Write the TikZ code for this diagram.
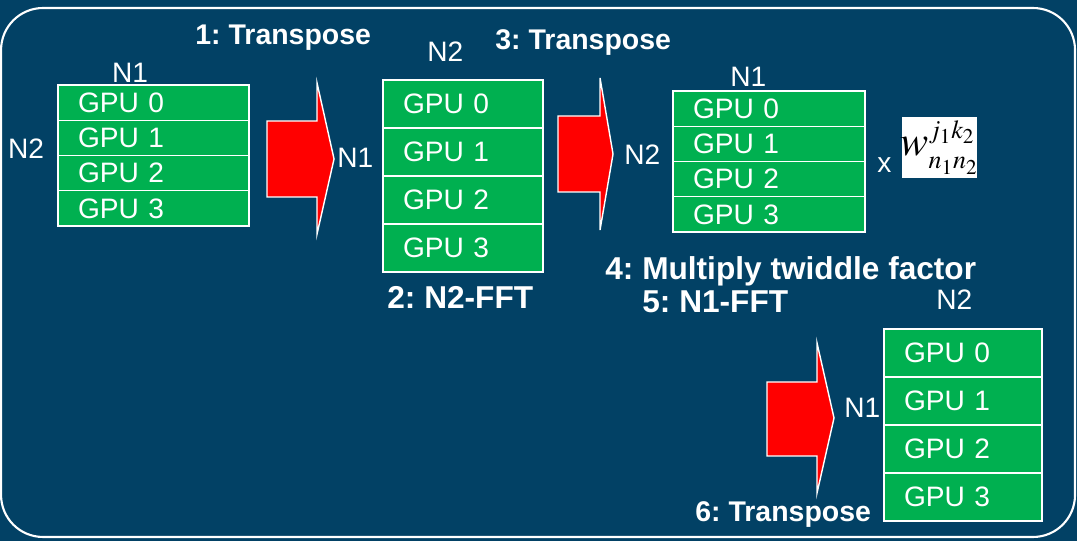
\documentclass[tikz,border=0pt]{standalone}
\usepackage{mathptmx}
\usepackage{fontspec}
\setmainfont{Liberation Sans}
\usetikzlibrary{positioning}
\definecolor{panel-blue}{HTML}{024165}
\definecolor{gpu-green}{HTML}{00B050}
\definecolor{arrow-red}{HTML}{FF0000}
\frenchspacing

\begin{document}
\begin{tikzpicture}[x=0.02cm, y=-0.02cm,
      lbl/.style={text=white, inner sep=0pt, font=\fontsize{16}{19}\selectfont},
      steplbl/.style={lbl, font=\fontsize{16.2}{19}\selectfont\bfseries},
      stepbig/.style={lbl, font=\fontsize{18}{21}\selectfont\bfseries},
      gpu/.style={draw=white, line width=0.8pt, fill=gpu-green, text=white,
                  font=\fontsize{16}{19}\selectfont, align=left,
                  inner xsep=0.4cm, inner ysep=0pt, outer sep=0pt},
      rowsA/.style={gpu, text width=3.02cm, minimum height=0.705cm},
      rowsB/.style={gpu, text width=2.40cm, minimum height=0.96cm},
      rowsC/.style={gpu, text width=3.04cm, minimum height=0.705cm},
      rowsD/.style={gpu, text width=2.36cm, minimum height=0.96cm},
      fatarrow/.style={fill=arrow-red, draw=white, line width=0.8pt}]
    % panel
    \fill[panel-blue] (0,0) rectangle (1077,541);
    \draw[white, line width=1.2pt, rounded corners=0.84cm] (1,8) rectangle (1075,537);

    % first layout: N2 x N1
    \node[rowsA, anchor=north west] (A0) at (58,85) {GPU 0};
    \node[rowsA, below=0pt of A0] (A1) {GPU 1};
    \node[rowsA, below=0pt of A1] (A2) {GPU 2};
    \node[rowsA, below=0pt of A2] (A3) {GPU 3};
    \node[lbl, anchor=base] (A-top) at (130,83) {N1};
    \node[lbl, anchor=base] (A-side) at (26,159) {N2};

    % 1: transpose
    \draw[fatarrow] (267,121) -- (317,121) -- (317,83) -- (334,159)
                    -- (317,234) -- (317,197) -- (267,197) -- cycle;
    \node[steplbl, anchor=base west] (T1) at (195,45) {1: Transpose};

    % second layout: N1 x N2
    \node[rowsB, anchor=north west] (B0) at (383,80) {GPU 0};
    \node[rowsB, below=0pt of B0] (B1) {GPU 1};
    \node[rowsB, below=0pt of B1] (B2) {GPU 2};
    \node[rowsB, below=0pt of B2] (B3) {GPU 3};
    \node[lbl, anchor=base west] (B-top) at (427,62) {N2};
    \node[lbl, anchor=base west] (B-side) at (337,168) {N1};
    \node[stepbig, anchor=base west] (F2) at (387,309) {2: N2-FFT};

    % 3: transpose
    \draw[fatarrow] (558,116) -- (600,116) -- (600,78) -- (613,154)
                    -- (600,230) -- (600,192) -- (558,192) -- cycle;
    \node[steplbl, anchor=base west] (T3) at (495,50) {3: Transpose};

    % third layout: N2 x N1, times the twiddle factor
    \node[rowsC, anchor=north west] (C0) at (673,91) {GPU 0};
    \node[rowsC, below=0pt of C0] (C1) {GPU 1};
    \node[rowsC, below=0pt of C1] (C2) {GPU 2};
    \node[rowsC, below=0pt of C2] (C3) {GPU 3};
    \node[lbl, anchor=base west] (C-top) at (730,87) {N1};
    \node[lbl, anchor=base west] (C-side) at (624,165) {N2};
    \node[lbl, anchor=base west] (times) at (877,173) {x};
    \node[fill=white, inner sep=0pt, minimum width=1.5cm, minimum height=1.22cm]
          (W) at (939.5,147.5) {};
    % twiddle factor, scripts pushed apart
    \node[inner sep=0pt, font=\fontsize{20}{22}\selectfont] (Wf) at (W)
          {$\scalebox{1.2}{$w$}^{\raisebox{2.5pt}{$\scriptstyle j_1k_2$}}%
            _{\raisebox{-2.5pt}{$\scriptstyle n_1n_2$}}$};
    \node[stepbig, anchor=base west] (F4) at (605,280) {4: Multiply twiddle factor};
    \node[stepbig, anchor=base west] (F5) at (642,313) {5: N1-FFT};

    % 6: transpose
    \draw[fatarrow] (767,382) -- (817,382) -- (817,343) -- (834,418)
                    -- (817,493) -- (817,456) -- (767,456) -- cycle;
    \node[steplbl, anchor=base west] (T6) at (695,522) {6: Transpose};

    % last layout: N1 x N2
    \node[rowsD, anchor=north west] (D0) at (884,329) {GPU 0};
    \node[rowsD, below=0pt of D0] (D1) {GPU 1};
    \node[rowsD, below=0pt of D1] (D2) {GPU 2};
    \node[rowsD, below=0pt of D2] (D3) {GPU 3};
    \node[lbl, anchor=base west] (D-top) at (936,310) {N2};
    \node[lbl, anchor=base west] (D-side) at (844,418) {N1};
  \end{tikzpicture}
\end{document}
